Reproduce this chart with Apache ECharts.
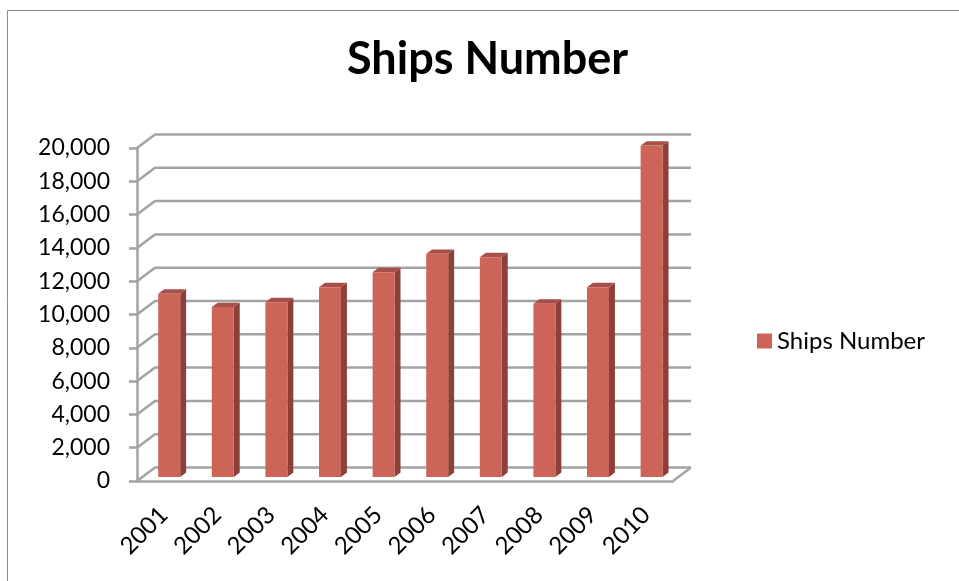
<!DOCTYPE html>
<html>
<head>
<meta charset="utf-8">
<title>Ships Number</title>
<script src="https://cdn.jsdelivr.net/npm/echarts@6/dist/echarts.min.js"></script>
<style>
  html, body { margin: 0; padding: 0; background: #fff; }
  #chart { width: 959px; height: 581px; }
</style>
</head>
<body>
<div id="chart"></div>
<script>
// Yearly ship counts
const categories = ['2001', '2002', '2003', '2004', '2005', '2006', '2007', '2008', '2009', '2010'];
const shipCounts = [11000, 10200, 10500, 11400, 12300, 13400, 13200, 10400, 11400, 19900];
const yTicks = [0, 2000, 4000, 6000, 8000, 10000, 12000, 14000, 16000, 18000, 20000];

// Oblique projection used for the pseudo-3D walls and columns
const DEPTH_X = 18;      // horizontal shift of the back plane
const DEPTH_Y = -13.5;   // vertical shift of the back plane
const BAR_FRONT = 0.3;   // depth at which a column's front face sits (0..1)
const BAR_DEPTH = 0.33;  // column depth as a fraction of the floor depth
const BAR_RATIO = 0.41;  // column width relative to the category band

const GRID_COLOR = '#A3A3A3';
const FRONT_COLOR = '#CC6458';
const SIDE_COLOR = '#8D4039';
const TOP_COLOR = '#A7504A';
const FONT = 'Lato';

const chart = echarts.init(document.getElementById('chart'), null, { renderer: 'canvas' });

// Back wall gridlines, the left wall diagonals and the floor outline
function renderWalls(params, api) {
  const cs = params.coordSys;
  const left = cs.x;
  const right = cs.x + cs.width;
  const v = api.value(1);
  const y = api.coord([0, v])[1];
  const children = [{
    type: 'polyline',
    shape: { points: [[left, y], [left + DEPTH_X, y + DEPTH_Y], [right + DEPTH_X, y + DEPTH_Y]] },
    style: { stroke: GRID_COLOR, lineWidth: 2.5, fill: null }
  }];
  if (v === 0) {
    children.push({
      type: 'line',
      shape: { x1: right, y1: y, x2: right + DEPTH_X, y2: y + DEPTH_Y },
      style: { stroke: GRID_COLOR, lineWidth: 2.5 }
    });
  }
  return { type: 'group', children: children };
}

// A column with front, right side and top faces
function renderColumn(params, api) {
  const idx = api.value(0);
  const base = api.coord([idx, 0]);
  const top = api.coord([idx, api.value(1)]);
  const band = api.size([1, 0])[0];
  const w = band * BAR_RATIO;
  const fx = base[0] - w / 2 + BAR_FRONT * DEPTH_X;
  const by = base[1] + BAR_FRONT * DEPTH_Y;
  const ty = top[1] + BAR_FRONT * DEPTH_Y;
  const ddx = BAR_DEPTH * DEPTH_X;
  const ddy = BAR_DEPTH * DEPTH_Y;
  return {
    type: 'group',
    children: [
      {
        type: 'polygon',
        shape: { points: [[fx + w, ty], [fx + w + ddx, ty + ddy], [fx + w + ddx, by + ddy], [fx + w, by]] },
        style: { fill: SIDE_COLOR }
      },
      {
        type: 'polygon',
        shape: { points: [[fx, ty], [fx + ddx, ty + ddy], [fx + w + ddx, ty + ddy], [fx + w, ty]] },
        style: { fill: TOP_COLOR }
      },
      {
        type: 'rect',
        shape: { x: fx, y: ty, width: w, height: by - ty },
        style: { fill: FRONT_COLOR }
      }
    ]
  };
}

const option = {
  backgroundColor: '#ffffff',
  animation: false,
  title: {
    text: 'Ships Number',
    left: 347,
    top: 37,
    padding: 0,
    textStyle: { fontFamily: FONT, fontWeight: 'bold', fontSize: 45, color: '#000' }
  },
  legend: {
    data: ['Ships Number'],
    left: 752,
    top: 324,
    icon: 'rect',
    itemWidth: 15,
    itemHeight: 15,
    itemGap: 6,
    textStyle: { fontFamily: FONT, fontSize: 24, color: '#000', padding: [0, 0, 0, 0] }
  },
  grid: { left: 137, top: 148, width: 536, height: 333 },
  xAxis: {
    type: 'category',
    data: categories,
    axisLine: { show: true, lineStyle: { color: GRID_COLOR, width: 2.5 } },
    axisTick: { show: false },
    axisLabel: { rotate: 45, margin: 30, fontFamily: FONT, fontSize: 24, color: '#000' },
    splitLine: { show: false }
  },
  yAxis: {
    type: 'value',
    min: 0,
    max: 20000,
    interval: 2000,
    axisLine: { show: true, lineStyle: { color: GRID_COLOR, width: 2.5 } },
    axisTick: { show: true, length: 8, lineStyle: { color: GRID_COLOR, width: 2.5 } },
    axisLabel: {
      margin: 27,
      fontFamily: FONT,
      fontSize: 23,
      color: '#000',
      formatter: function (v) { return v.toLocaleString('en-US'); }
    },
    splitLine: { show: false }
  },
  graphic: [{
    type: 'rect',
    silent: true,
    shape: { x: 7.5, y: 10.5, width: 2000, height: 2000 },
    style: { fill: null, stroke: '#8C8C8C', lineWidth: 1 }
  }],
  series: [
    {
      name: 'walls',
      type: 'custom',
      silent: true,
      z: 1,
      renderItem: renderWalls,
      encode: { x: 0, y: 1 },
      data: yTicks.map(function (v) { return [0, v]; })
    },
    {
      name: 'Ships Number',
      type: 'custom',
      z: 3,
      itemStyle: { color: FRONT_COLOR },
      renderItem: renderColumn,
      encode: { x: 0, y: 1 },
      data: shipCounts.map(function (v, i) { return [i, v]; })
    }
  ]
};

chart.setOption(option);
</script>
</body>
</html>
